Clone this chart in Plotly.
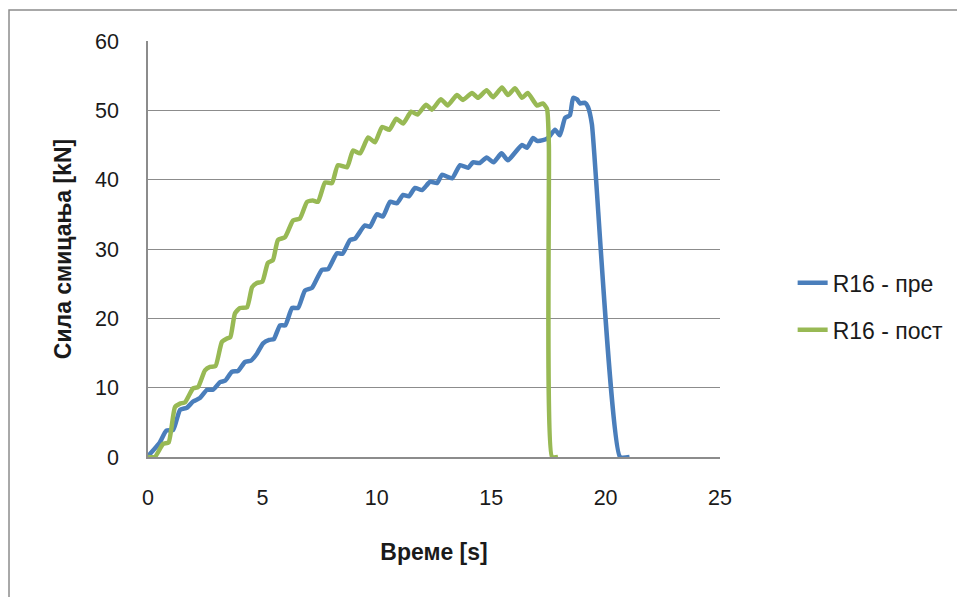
import plotly.graph_objects as go

# Time [s] and shear force [kN]
t_pre = [0, 0.1, 0.5, 0.8, 1.1, 1.4, 1.7, 1.97, 2.27, 2.58, 2.84, 3.15, 3.37, 3.67, 3.93,
         4.24, 4.5, 4.76, 5.03, 5.3, 5.5, 5.77, 6.0, 6.3, 6.56, 6.86, 7.17, 7.6, 7.87,
         8.26, 8.5, 8.83, 9.05, 9.48, 9.7, 10.0, 10.27, 10.58, 10.88, 11.15, 11.4, 11.67,
         11.98, 12.33, 12.63, 12.85, 13.29, 13.64, 13.99, 14.2, 14.5, 14.8, 15.1, 15.45,
         15.73, 16.04, 16.35, 16.56, 16.83, 17.0, 17.26, 17.48, 17.79, 18.0, 18.23, 18.44,
         18.58, 18.75, 18.88, 19.1, 19.23, 19.4, 20.63, 21.05]
f_pre = [0, 0.5, 2.0, 3.8, 3.9, 6.8, 7.1, 8.0, 8.5, 9.7, 9.7, 10.8, 11.0, 12.3, 12.4,
         13.7, 13.9, 14.9, 16.4, 16.9, 17.0, 19.0, 19.0, 21.5, 21.5, 24.0, 24.4, 27.0, 27.1,
         29.4, 29.3, 31.3, 31.5, 33.4, 33.2, 35.0, 34.7, 36.8, 36.6, 37.8, 37.6, 38.8,
         38.5, 39.7, 39.5, 40.7, 40.2, 42.1, 41.7, 42.5, 42.4, 43.2, 42.5, 43.8,
         42.8, 43.9, 45.0, 44.6, 46.0, 45.6, 45.7, 46.0, 47.2, 46.4, 48.9, 49.3,
         51.8, 51.6, 51.0, 51.1, 50.5, 48.0, 0, 0]

t_post = [0, 0.3, 0.66, 0.9, 1.18, 1.4, 1.62, 1.97, 2.19, 2.49, 2.71, 2.95, 3.23, 3.45,
          3.6, 3.8, 4.02, 4.33, 4.55, 4.76, 5.0, 5.24, 5.46, 5.68, 5.99, 6.34, 6.64, 6.95,
          7.2, 7.43, 7.74, 8.04, 8.3, 8.7, 8.96, 9.27, 9.62, 9.92, 10.23, 10.55, 10.85,
          11.15, 11.5, 11.78, 12.15, 12.41, 12.8, 13.1, 13.5, 13.77, 14.16, 14.42, 14.8,
          15.08, 15.47, 15.73, 16.04, 16.35, 16.6, 17.0, 17.26, 17.44, 17.52, 17.66, 17.92]
f_post = [0, 0, 1.9, 2.1, 7.2, 7.7, 7.9, 9.9, 10.1, 12.5, 13.0, 13.1, 16.6, 17.1,
          17.3, 20.7, 21.5, 21.6, 24.5, 25.1, 25.3, 28.0, 28.4, 31.3, 31.7, 34.1, 34.4, 36.8,
          37.0, 36.8, 39.6, 39.5, 42.1, 41.8, 44.2, 43.8, 46.1, 45.4, 47.6, 47.2, 48.8,
          48.1, 49.8, 49.4, 50.8, 50.1, 51.6, 50.7, 52.2, 51.5, 52.5, 51.8, 52.9,
          51.9, 53.3, 52.2, 53.2, 51.8, 52.5, 50.7, 51.0, 50.2, 45.0, 0, 0]

x_ticks = [0, 5, 10, 15, 20, 25]
y_ticks = [0, 10, 20, 30, 40, 50, 60]

FONT = "Liberation Sans, Arial, sans-serif"
GRID = "#8c8c8c"
TXT = "#1a1a1a"

fig = go.Figure()
fig.add_trace(go.Scatter(x=t_pre, y=f_pre, mode="lines", name="R16 - пре", legendgroup="a",
                         line=dict(color="#4A7EBB", width=4.5, shape="spline", smoothing=0.5)))
fig.add_trace(go.Scatter(x=t_post, y=f_post, mode="lines", name="R16 - пост", legendgroup="b",
                         line=dict(color="#98B954", width=4.5, shape="spline", smoothing=0.5)))

fig.update_layout(
    width=965, height=597,
    margin=dict(l=140, r=253, t=33, b=148, autoexpand=False),
    paper_bgcolor="white", plot_bgcolor="white",
    font=dict(family=FONT, size=21, color=TXT),
    showlegend=True,
    legend=dict(x=1.127, xanchor="left", y=0.362, yanchor="middle", xref="paper",
                font=dict(size=23, color=TXT), traceorder="grouped", tracegroupgap=14,
                bgcolor="rgba(0,0,0,0)"),
    xaxis=dict(range=[0, 25], tickvals=x_ticks, ticktext=[str(v) for v in x_ticks],
               showgrid=False, zeroline=False, showline=True, linecolor=GRID, linewidth=1.5,
               ticks="", ticklabelstandoff=20, automargin=False,
               tickfont=dict(size=21.5, color=TXT),
               title=dict(text="<b>Време [s]</b>", font=dict(size=23, color=TXT), standoff=35)),
    yaxis=dict(range=[0, 60], tickvals=y_ticks, ticktext=[str(v) for v in y_ticks],
               showgrid=True, gridcolor=GRID, gridwidth=1.2, zeroline=False,
               showline=True, linecolor=GRID, linewidth=1.5,
               ticks="", ticklabelstandoff=23, automargin=False,
               tickfont=dict(size=21.5, color=TXT),
               title=dict(text="<b>Сила смицања [kN]</b>", font=dict(size=23, color=TXT), standoff=17)),
    shapes=[dict(type="rect", xref="paper", yref="paper", x0=-0.243, x1=1.6, y0=-0.6, y1=1.0745,
                 line=dict(color="#8c8c8c", width=1.5), layer="below")],
)

fig.write_html("out.html")
